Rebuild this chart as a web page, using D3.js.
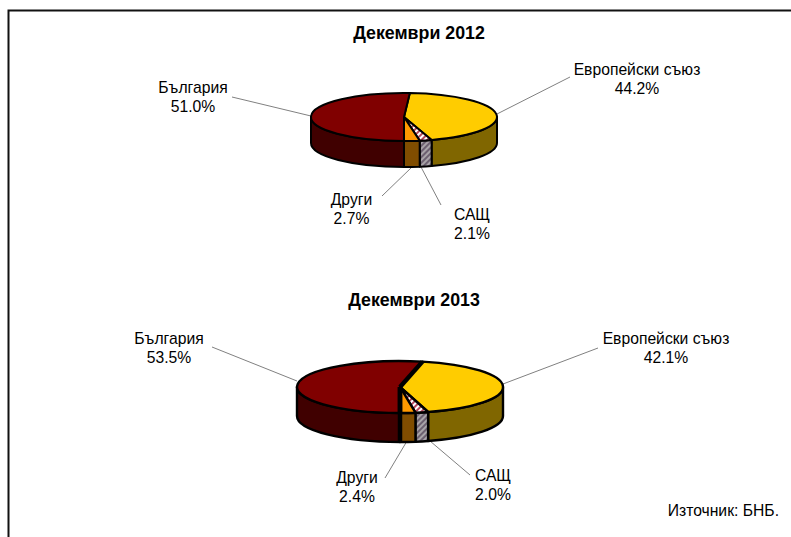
<!DOCTYPE html>
<html><head><meta charset="utf-8">
<script src="https://cdnjs.cloudflare.com/ajax/libs/d3/7.8.5/d3.min.js"></script>
<style>html,body{margin:0;background:#fff}svg{display:block}text{font-family:"Liberation Sans",Arial,sans-serif;fill:#000}</style>
</head><body><svg id="c" width="791" height="537"></svg>
<script>
const categories=["Европейски съюз","САЩ","Други","България"];
const values2012=[44.2,2.1,2.7,51.0];
const values2013=[42.1,2.0,2.4,53.5];
const titles=["Декември 2012","Декември 2013"];
const sourceNote="Източник: БНБ.";
const topFill=["#ffcc00","url(#hTop)","#ff9900","#800000"];
const sideFill=["#806600","url(#hSide)","#804d00","#400000"];

const svg=d3.select("#c");
const defs=svg.append("defs");
function hatch(id,bg,fg){
  const p=defs.append("pattern").attr("id",id).attr("width",4).attr("height",4)
    .attr("patternUnits","userSpaceOnUse").attr("patternTransform","rotate(45)");
  p.append("rect").attr("width",4).attr("height",4).attr("fill",bg);
  p.append("rect").attr("width",2).attr("height",4).attr("fill",fg);
}
hatch("hTop","#ffffff","#b5485a");
hatch("hSide","#a8a4a8","#6c6070");

svg.append("path").attr("d","M8.5 537V10.5H791").attr("fill","none").attr("stroke","#111").attr("stroke-width",2);

const charts=[
 {values:values2012,title:titles[0],tx:419,ty:39,cx:404,cy:117,rx:93,ry:24,depth:26,sw:2,sep:0,
  labels:[{x:637,y:75,lx:[570,497],ly:[77,114]},{x:472,y:220,lx:[441,421],ly:[205,167]},{x:351.5,y:205,lx:[382,412],ly:[196,167]},{x:193,y:93,lx:[232,311],ly:[97,116]}]},
 {values:values2013,title:titles[1],tx:414,ty:306,cx:400,cy:387,rx:103,ry:26,depth:29,sw:2.4,sep:4.5,
  labels:[{x:666,y:344,lx:[598,503],ly:[348,384]},{x:493,y:481,lx:[470,430],ly:[475,441]},{x:357,y:483,lx:[385,407],ly:[478,441]},{x:169,y:344,lx:[212,297],ly:[347,381]}]}
];

charts.forEach(ch=>{
  const g=svg.append("g");
  const x=d3.scaleLinear().domain([-1,1]).range([ch.cx-ch.rx,ch.cx+ch.rx]);
  const y=d3.scaleLinear().domain([-1,1]).range([ch.cy-ch.ry,ch.cy+ch.ry]);
  const bulgariaShare=ch.values[3]/d3.sum(ch.values)*2*Math.PI;
  const arcs=d3.pie().sort(null).startAngle(Math.PI-2*Math.PI+bulgariaShare)
     .endAngle(Math.PI+bulgariaShare)(ch.values);
  const px=a=>x(Math.sin(a)), py=a=>y(-Math.cos(a));
  const ell=(a0,a1,dy,sweep)=>{
    const large=Math.abs(a1-a0)>Math.PI?1:0;
    return `A${ch.rx} ${ch.ry} 0 ${large} ${sweep} ${px(a1)} ${py(a1)+dy}`;
  };
  ch.labels.forEach(l=>{
    g.append("path").attr("d",d3.line()(d3.zip(l.lx,l.ly))).attr("fill","none").attr("stroke","#808080").attr("stroke-width",1);
  });
  arcs.forEach((d,i)=>{
    const a0=Math.max(d.startAngle,Math.PI/2), a1=Math.min(d.endAngle,3*Math.PI/2);
    if(a1<=a0) return;
    g.append("path").attr("d",`M${px(a0)} ${py(a0)}${ell(a0,a1,0,1)}L${px(a1)} ${py(a1)+ch.depth}${ell(a1,a0,ch.depth,0)}Z`)
      .attr("fill",sideFill[i]).attr("stroke","#000").attr("stroke-width",ch.sw).attr("stroke-linejoin","round");
  });
  arcs.forEach((d,i)=>{
    g.append("path").attr("d",`M${x(0)} ${y(0)}L${px(d.startAngle)} ${py(d.startAngle)}${ell(d.startAngle,d.endAngle,0,1)}Z`)
      .attr("fill",topFill[i]).attr("stroke","#000").attr("stroke-width",ch.sw).attr("stroke-linejoin","round");
  });
  if(ch.sep){
    const b=arcs[3];
    g.append("path").attr("d",`M${px(b.endAngle)} ${py(b.endAngle)}L${x(0)} ${y(0)}`)
      .attr("stroke","#000").attr("stroke-width",ch.sep).attr("fill","none");
    g.append("path").attr("d",`M${x(0)} ${y(0)}L${px(b.startAngle)} ${py(b.startAngle)}`)
      .attr("stroke","#000").attr("stroke-width",ch.sep).attr("fill","none");
    g.append("path").attr("d",`M${x(0)} ${y(0)}V${y(0)+ch.ry+ch.depth}`)
      .attr("stroke","#000").attr("stroke-width",ch.sep).attr("fill","none");
  }
  g.append("text").attr("x",ch.tx).attr("y",ch.ty).attr("text-anchor","middle")
   .attr("font-size",17.8).attr("font-weight","bold").text(ch.title);
  ch.labels.forEach((l,i)=>{
    const t=g.append("text").attr("text-anchor","middle").attr("font-size",15.7);
    t.append("tspan").attr("x",l.x).attr("y",l.y).text(categories[i]);
    t.append("tspan").attr("x",l.x).attr("y",l.y+19).text(d3.format(".1f")(ch.values[i])+"%");
  });
});
svg.append("text").attr("x",779).attr("y",516).attr("text-anchor","end").attr("font-size",15.7).text(sourceNote);
</script></body></html>
